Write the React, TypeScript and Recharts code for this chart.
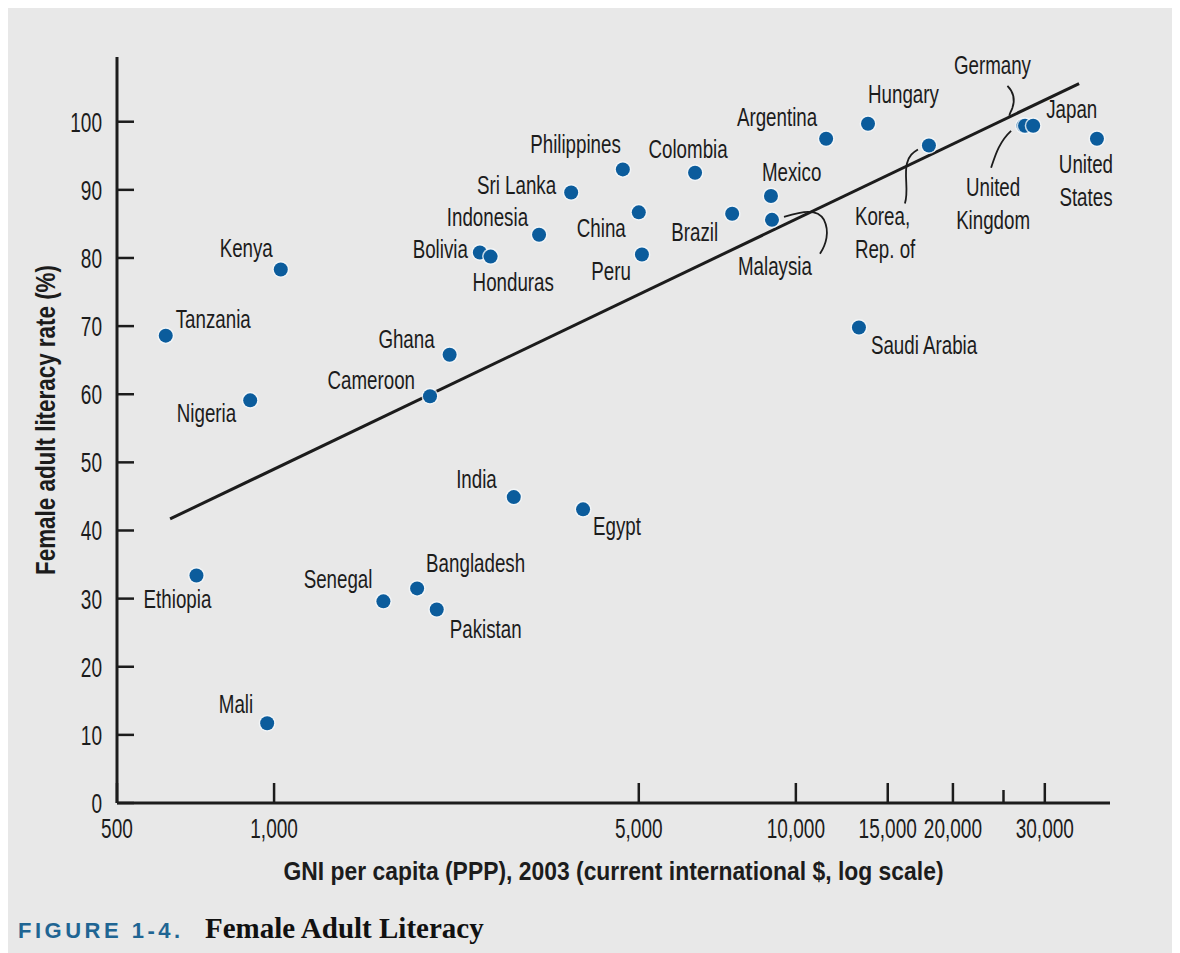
import { ScatterChart, Scatter, XAxis, YAxis } from "recharts";

// values (GNI per capita PPP 2003, female adult literacy %)
const countries = [
  "Tanzania", "Kenya", "Nigeria", "Ghana", "Cameroon", "Bolivia", "Honduras",
  "Indonesia", "Sri Lanka", "Philippines", "China", "Peru", "Colombia", "Brazil",
  "Mexico", "Malaysia", "Argentina", "Hungary", "Korea, Rep. of", "Germany",
  "United Kingdom", "Japan", "United States", "Saudi Arabia", "India", "Egypt",
  "Ethiopia", "Senegal", "Bangladesh", "Pakistan", "Mali",
];
const gniValues = [
  620, 1030, 900, 2170, 1990, 2480, 2600,
  3220, 3710, 4660, 5000, 5070, 6410, 7550,
  8960, 9000, 11430, 13750, 17990, 27300,
  27500, 28500, 37760, 13210, 2880, 3910,
  710, 1620, 1880, 2050, 970,
];
const literacyValues = [
  68.6, 78.3, 59.1, 65.8, 59.7, 80.8, 80.2,
  83.4, 89.6, 93.0, 86.7, 80.5, 92.5, 86.5,
  89.1, 85.6, 97.5, 99.7, 96.5, 99.4,
  99.4, 99.4, 97.5, 69.8, 44.9, 43.1,
  33.4, 29.6, 31.5, 28.4, 11.7,
];

// fitted line end points
const trendGni = [632, 34900];
const trendLiteracy = [41.7, 105.6];

const xTicks = [500, 1000, 5000, 10000, 15000, 20000, 25000, 30000];
const yTicks = [0, 10, 20, 30, 40, 50, 60, 70, 80, 90, 100];

const points = countries.map((name, i) => ({ name, gni: gniValues[i], lit: literacyValues[i] }));
const trend = trendGni.map((g, i) => ({ gni: g, lit: trendLiteracy[i] }));

const INK = "#1c1c1c";
const DOT = "#0b5c9c";
const FONT = "'Liberation Sans', Arial, sans-serif";

// label placement relative to the dot (baseline of first line)
type Place = { dx: number; dy: number; anchor: "start" | "middle" | "end"; lines?: string[]; leader?: string };
const place: Record<string, Place> = {
  Tanzania: { dx: 10, dy: -8, anchor: "start" },
  Kenya: { dx: -8, dy: -13, anchor: "end" },
  Nigeria: { dx: -14, dy: 22, anchor: "end" },
  Ghana: { dx: -15, dy: -7, anchor: "end" },
  Cameroon: { dx: -15, dy: -7, anchor: "end" },
  Bolivia: { dx: -12, dy: 5, anchor: "end" },
  Honduras: { dx: -18, dy: 34, anchor: "start" },
  Indonesia: { dx: -11, dy: -9, anchor: "end" },
  "Sri Lanka": { dx: -15, dy: 1, anchor: "end" },
  Philippines: { dx: -2, dy: -16, anchor: "end" },
  China: { dx: -13, dy: 25, anchor: "end" },
  Peru: { dx: -11, dy: 25, anchor: "end" },
  Colombia: { dx: -7, dy: -15, anchor: "middle" },
  Brazil: { dx: -14, dy: 27, anchor: "end" },
  Mexico: { dx: -9, dy: -15, anchor: "start" },
  Malaysia: { dx: -34, dy: 55, anchor: "start", leader: "M 12,-3 C 30,-8 45,-12 52,0 C 58,12 54,25 48,34" },
  Argentina: { dx: -9, dy: -13, anchor: "end" },
  Hungary: { dx: 0, dy: -21, anchor: "start" },
  "Korea, Rep. of": { dx: -74, dy: 79, anchor: "start", lines: ["Korea,", "Rep. of"], leader: "M -24,58 C -20,45 -25,30 -22,18 C -20,10 -16,7 -11,4" },
  Germany: { dx: -31, dy: -52, anchor: "middle", leader: "M -16,-40 C -8,-32 -9,-24 -11,-18 C -13,-13 -14,-12 -14,-10" },
  "United Kingdom": { dx: -32, dy: 70, anchor: "middle", lines: ["United", "Kingdom"], leader: "M -34,42 C -30,30 -26,16 -14,5" },
  Japan: { dx: 13, dy: -8, anchor: "start" },
  "United States": { dx: -11, dy: 34, anchor: "middle", lines: ["United", "States"] },
  "Saudi Arabia": { dx: 12, dy: 27, anchor: "start" },
  India: { dx: -17, dy: -9, anchor: "end" },
  Egypt: { dx: 10, dy: 26, anchor: "start" },
  Ethiopia: { dx: -19, dy: 33, anchor: "middle" },
  Senegal: { dx: -11, dy: -13, anchor: "end" },
  Bangladesh: { dx: 9, dy: -16, anchor: "start" },
  Pakistan: { dx: 13, dy: 28, anchor: "start" },
  Mali: { dx: -14, dy: -10, anchor: "end" },
};

// condensed text: the original face is a narrow grotesque
function Cond({ x, y, anchor, size, sx, children }: any) {
  return (
    <text
      transform={`translate(${x},${y}) scale(${sx},1)`}
      textAnchor={anchor}
      fontSize={size}
      fontFamily={FONT}
      fill={INK}
    >
      {children}
    </text>
  );
}

function CountryDot(props: any) {
  const { cx, cy, payload } = props;
  const p = place[payload.name];
  const lines = p.lines || [payload.name];
  return (
    <g>
      {p.leader && (
        <path d={p.leader} transform={`translate(${cx},${cy})`} fill="none" stroke={INK} strokeWidth={1.8} />
      )}
      <circle cx={cx} cy={cy} r={8.5} fill="#f4f7fa" opacity={0.8} />
      <circle cx={cx} cy={cy} r={7} fill={DOT} />
      {lines.map((t, i) => (
        <Cond key={t} x={cx + p.dx} y={cy + p.dy + i * 33} anchor={p.anchor} size={25} sx={0.75}>
          {t}
        </Cond>
      ))}
    </g>
  );
}

function XTick(props: any) {
  const { x, y, payload } = props;
  const v = payload.value;
  const minor = v === 25000;
  return (
    <g>
      <line x1={x} x2={x} y1={y} y2={y - (minor ? 13 : 20)} stroke={INK} strokeWidth={2.5} />
      {!minor && (
        <Cond x={x} y={y + 35} anchor="middle" size={28} sx={0.68}>
          {v.toLocaleString("en-US")}
        </Cond>
      )}
    </g>
  );
}

function YTick(props: any) {
  const { x, y, payload } = props;
  return (
    <g>
      <line x1={x} x2={x + 17} y1={y} y2={y} stroke={INK} strokeWidth={2.5} />
      <Cond x={x - 15} y={y + 10} anchor="end" size={28} sx={0.68}>
        {payload.value}
      </Cond>
    </g>
  );
}

function YTitle(props: any) {
  const { viewBox } = props;
  const x = viewBox.x + 47;
  const y = viewBox.y + viewBox.height / 2 - 10;
  return (
    <text
      transform={`translate(${x},${y}) rotate(-90)`}
      textAnchor="middle"
      fontSize={27}
      fontWeight="bold"
      fontFamily={FONT}
      fill={INK}
      textLength={310}
      lengthAdjust="spacingAndGlyphs"
    >
      Female adult literacy rate (%)
    </text>
  );
}

function XTitle(props: any) {
  const { viewBox } = props;
  return (
    <text
      x={viewBox.x + viewBox.width / 2}
      y={viewBox.y + 77}
      textAnchor="middle"
      fontSize={26}
      fontWeight="bold"
      fontFamily={FONT}
      fill={INK}
      textLength={660}
      lengthAdjust="spacingAndGlyphs"
    >
      GNI per capita (PPP), 2003 (current international $, log scale)
    </text>
  );
}

export default function App() {
  return (
    <div style={{ position: "relative", width: 1172, height: 945, background: "#e8e8e8" }}>
      <ScatterChart width={1172} height={945} margin={{ top: 49, right: 70, bottom: 0, left: 0 }}>
        <XAxis
          type="number"
          dataKey="gni"
          scale="log"
          domain={[500, 40000]}
          ticks={xTicks}
          interval={0}
          height={150}
          tickSize={0}
          tickMargin={0}
          tick={<XTick />}
          axisLine={{ stroke: INK, strokeWidth: 3 }}
          label={<XTitle />}
        />
        <YAxis
          type="number"
          dataKey="lit"
          domain={[0, 109.5]}
          ticks={yTicks}
          interval={0}
          width={109}
          tickSize={0}
          tickMargin={0}
          tick={<YTick />}
          axisLine={{ stroke: INK, strokeWidth: 3 }}
          label={<YTitle />}
        />
        <Scatter
          data={trend}
          line={{ stroke: INK, strokeWidth: 3 }}
          shape={() => <g />}
          isAnimationActive={false}
        />
        <Scatter data={points} shape={<CountryDot />} isAnimationActive={false} />
      </ScatterChart>
      <svg width={1172} height={60} style={{ position: "absolute", left: 0, top: 885 }}>
        <text x={10} y={45} fontSize={22} fontWeight="bold" fontFamily={FONT} fill="#1f6593" letterSpacing={3.5}>
          FIGURE 1-4.
        </text>
        <text x={197} y={45} fontSize={29} fontWeight="bold" fontFamily="'Liberation Serif', serif" fill="#111">
          Female Adult Literacy
        </text>
      </svg>
    </div>
  );
}
